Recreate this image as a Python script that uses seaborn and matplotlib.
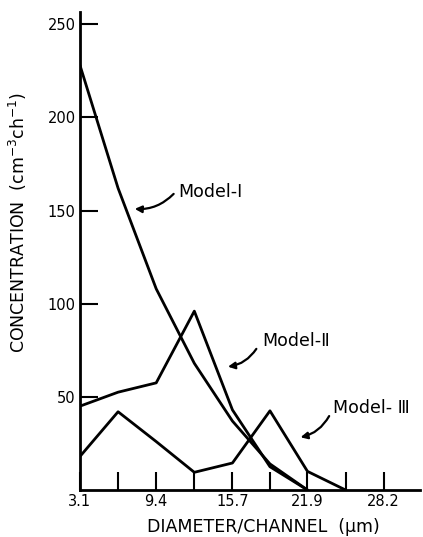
import pandas as pd
import matplotlib
matplotlib.use("Agg")
import matplotlib.pyplot as plt
import seaborn as sns

# channel mid-points (um) and concentrations
channel = [3.1, 6.25, 9.4, 12.55, 15.7, 18.8, 21.9, 25.05, 28.2]
tick_labels = ["3.1", "", "9.4", "", "15.7", "", "21.9", "", "28.2"]
model_1 = [228, 162, 108, 68, 37, 14, 0]
model_2 = [45, 52.5, 57.5, 96, 43, 12.5, 0]
model_3 = [18, 42, 26, 9.5, 14.5, 42.5, 10, 0]
y_ticks = [50, 100, 150, 200, 250]

rows = []
for name, vals in [("Model-Ⅰ", model_1), ("Model-Ⅱ", model_2), ("Model- Ⅲ", model_3)]:
    for x, v in zip(channel, vals):
        rows.append({"diameter": x, "conc": v, "model": name})
df = pd.DataFrame(rows)

sns.set_style("ticks")
plt.rcParams['font.family'] = ['DejaVu Sans']
plt.rcParams['text.color'] = 'black'

fig = plt.figure(figsize=(4.23, 5.37), dpi=100)
ax = fig.add_axes([0.189, 0.0875, 0.804, 0.89])

sns.lineplot(data=df, x="diameter", y="conc", hue="model",
             palette=["black"] * 3, linewidth=2.0, legend=False, ax=ax)

ax.set_xlim(3.1, 31.2)
ax.set_ylim(0, 256.5)
ax.set_xticks(channel)
ax.set_xticklabels(tick_labels, fontsize=10.5)
ax.set_yticks(y_ticks)
ax.set_yticklabels([str(t) for t in y_ticks], fontsize=10.5)
ax.tick_params(direction="in", length=13, width=1.5, pad=3,
               color="black", labelcolor="black")

sns.despine(ax=ax)
for side in ["left", "bottom"]:
    ax.spines[side].set_linewidth(2.0)
    ax.spines[side].set_color("black")

ax.set_xlabel("DIAMETER/CHANNEL  (µm)", fontsize=12.5, color="black")
ax.xaxis.set_label_coords(0.54, -0.058)
ax.set_ylabel(r"CONCENTRATION  (cm$^{-3}$ch$^{-1}$)", fontsize=12.5, color="black")
ax.yaxis.set_label_coords(-0.15, 0.56)

# labels with arrows
notes = [("Model-Ⅰ", (7.4, 151), (11.0, 160), (11.25, 160)),
         ("Model-Ⅱ", (15.1, 66), (17.8, 77), (18.2, 80)),
         ("Model- Ⅲ", (21.1, 28), (23.8, 41), (24.0, 44))]
for label, head, tail, txt in notes:
    ax.annotate("", xy=head, xytext=tail,
                arrowprops=dict(arrowstyle="-|>", color="black", lw=1.6,
                                connectionstyle="arc3,rad=-0.25",
                                mutation_scale=10))
    ax.text(txt[0], txt[1], label, fontsize=12.5, ha="left", va="center",
            color="black")

plt.savefig("out.png", dpi=100)
